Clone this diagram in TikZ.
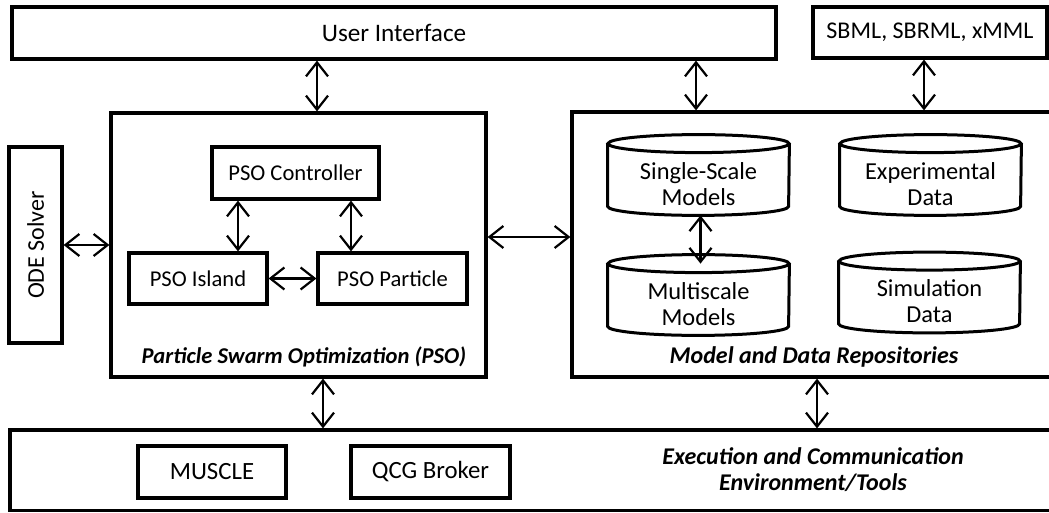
\documentclass[tikz,border=0pt]{standalone}
\usepackage{fontspec}
\setmainfont{Carlito}
\usetikzlibrary{shapes,arrows.meta}

\begin{document}
\begin{tikzpicture}[x=0.5pt,y=-0.5pt]
\tikzstyle{block}=[rectangle,draw,line width=1.6pt,inner sep=0pt,font=\fontsize{11.3}{13.5}\selectfont]
\tikzstyle{store}=[rectangle,inner sep=0pt,minimum width=90.5pt,minimum height=31pt,align=center,font=\fontsize{12.2}{13}\selectfont]
\tikzstyle{boxtitle}=[font=\fontsize{12}{13}\selectfont\bfseries\itshape,align=center]
\tikzstyle{dblarrow}=[{Straight Barb[length=7pt,width=11pt]}-{Straight Barb[length=7pt,width=11pt]},line width=1.1pt]
\useasboundingbox (0,0) rectangle (1049,513);

% outer frames
\node[block,font=\fontsize{12.6}{14}\selectfont,minimum width=382pt,minimum height=26pt] (ui) at (394,33) {User Interface};
\node[block,font=\fontsize{12}{14}\selectfont,minimum width=117pt,minimum height=25.5pt] (sbml) at (930,32.5) {SBML, SBRML, xMML};
\node[block,font=\fontsize{12}{14}\selectfont,rotate=90,minimum width=98pt,minimum height=26.5pt] (ode) at (35.5,245) {ODE Solver};
\node[block,minimum width=187.5pt,minimum height=132pt] (pso) at (298.5,245) {};
\node[block,minimum width=245pt,minimum height=132.5pt] (repo) at (817,244.5) {};
\node[block,minimum width=526pt,minimum height=40.25pt] (env) at (536,470.25) {};

% PSO parts
\node[block,minimum width=83.5pt,minimum height=26pt] (ctrl) at (295.5,173) {PSO Controller};
\node[block,minimum width=69pt,minimum height=25.5pt] (island) at (198,278.5) {PSO Island};
\node[block,minimum width=74.5pt,minimum height=25.5pt] (particle) at (392.5,278.5) {PSO Particle};
\node[boxtitle,font=\fontsize{11.3}{13.5}\selectfont\bfseries\itshape] (psolabel) at (304,357) {Particle Swarm Optimization (PSO)};

% repositories
\node[store] (single) at (698.5,184) {Single-Scale\\Models};
\node[store] (exper) at (930.5,184) {Experimental\\Data};
\node[store] (multi) at (698.5,304) {Multiscale\\Models};
\node[store] (simul) at (929.5,301.5) {Simulation\\Data};
\foreach \n in {single,exper,multi,simul}{
  \draw[line width=1.5pt] ([yshift=4.5pt]\n.north) ellipse [x radius=45.25pt,y radius=4.5pt];
  \draw[line width=1.5pt] ([yshift=4.5pt]\n.north west) -- ([yshift=4.5pt]\n.south west)
    arc[start angle=180,end angle=360,x radius=45.25pt,y radius=4.5pt]
    -- ([yshift=4.5pt]\n.north east);
}
\node[boxtitle] (repolabel) at (814,357) {Model and Data Repositories};

% environment
\node[block,font=\fontsize{12.4}{14}\selectfont,minimum width=74pt,minimum height=26pt] (muscle) at (212,472) {MUSCLE};
\node[block,font=\fontsize{12.4}{14}\selectfont,minimum width=79.5pt,minimum height=26pt] (qcg) at (430.5,472) {QCG Broker};
\node[boxtitle] (envlabel) at (813,470) {Execution and Communication\\Environment/Tools};

% connections
\draw[dblarrow] ([xshift=-38.5pt]ui.south) -- ([xshift=-38.5pt]ui.south |- pso.north);
\draw[dblarrow] ([xshift=151pt]ui.south) -- ([xshift=151pt]ui.south |- repo.north);
\draw[dblarrow] ([xshift=-3pt]sbml.south) -- ([xshift=-3pt]sbml.south |- repo.north);
\draw[dblarrow] (ode.south) -- (ode.south -| pso.west);
\draw[dblarrow] ([yshift=4pt]pso.east) -- ([yshift=4pt]pso.east -| repo.west);
\draw[dblarrow] ([xshift=-28.75pt]ctrl.south) -- ([xshift=-28.75pt]ctrl.south |- island.north);
\draw[dblarrow] ([xshift=27.75pt]ctrl.south) -- ([xshift=27.75pt]ctrl.south |- particle.north);
\draw[dblarrow] (island) -- (particle);
\draw[dblarrow] ([xshift=1pt]single.south) -- ([xshift=1pt,yshift=4.5pt]multi.north);
\draw[dblarrow] ([xshift=12.25pt]pso.south) -- ([xshift=12.25pt]pso.south |- env.north);
\draw[dblarrow] (repo.south) -- (repo.south |- env.north);
\end{tikzpicture}
\end{document}
